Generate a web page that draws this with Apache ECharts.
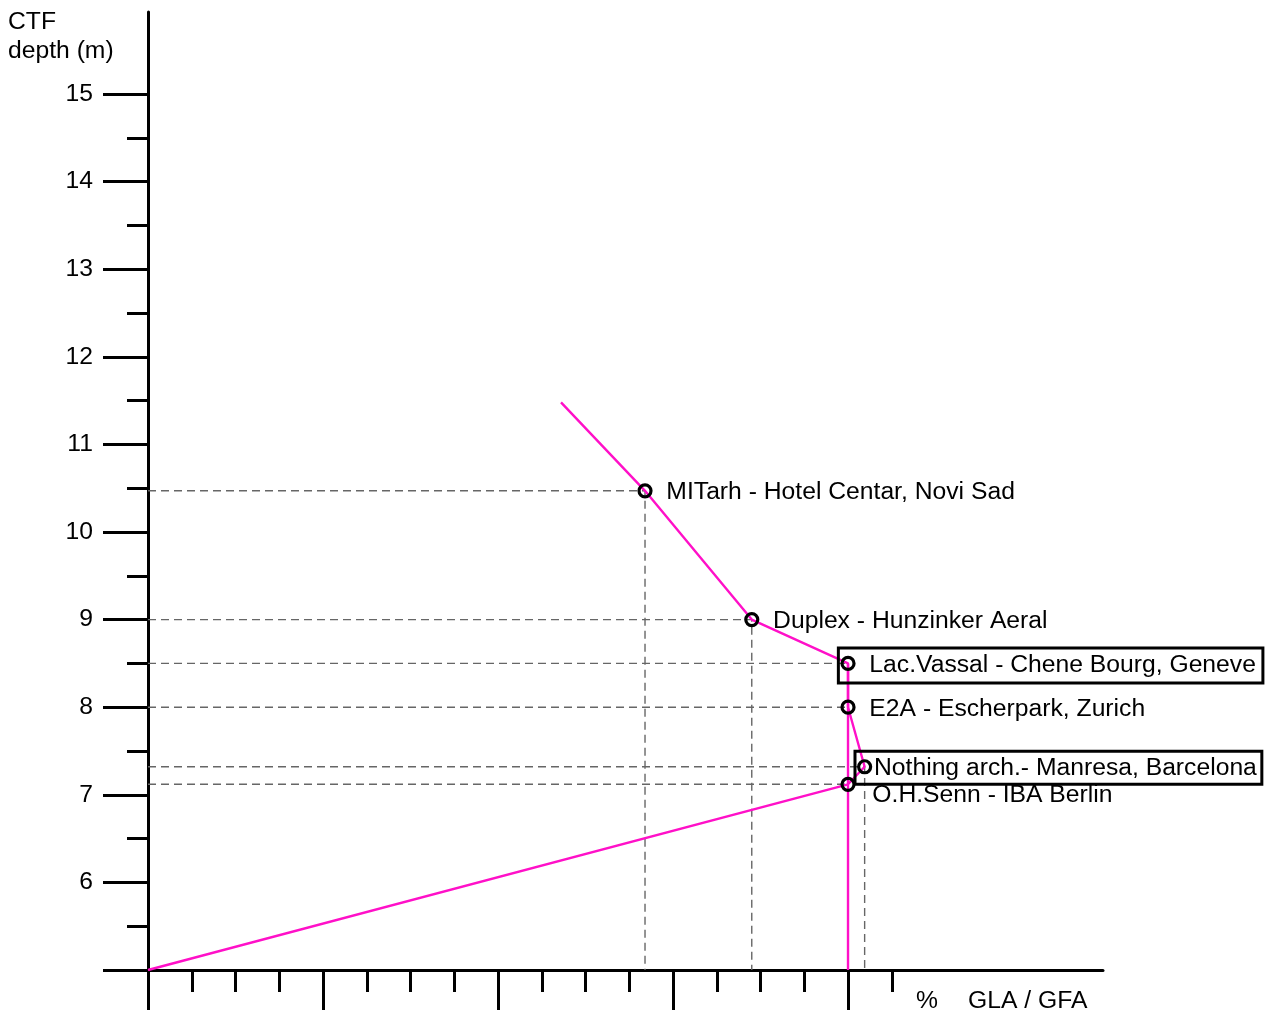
<!DOCTYPE html>
<html>
<head>
<meta charset="utf-8">
<title>CTF depth vs GLA / GFA</title>
<script src="https://cdn.jsdelivr.net/npm/echarts@6/dist/echarts.min.js"></script>
<style>
  html, body { margin: 0; padding: 0; background: #fff; }
  #chart { width: 1271px; height: 1012px; }
</style>
</head>
<body>
<div id="chart"></div>
<script>
// Projects: GLA/GFA ratio (%) against CTF depth (m)
const projectNames = [
  'MITarh - Hotel Centar, Novi Sad',
  'Duplex - Hunzinker Aeral',
  'Lac.Vassal - Chene Bourg, Geneve',
  'E2A - Escherpark, Zurich',
  'Nothing arch.- Manresa, Barcelona',
  'O.H.Senn - IBA Berlin'
];
const glaGfaPct = [56.8, 69.0, 80.0, 80.0, 81.9, 80.0];
const ctfDepth = [10.47, 9.0, 8.5, 8.0, 7.32, 7.12];

// Trend line runs from an upper extension, through the projects, down to the origin
const trendStart = [47.2, 11.48];
const trendEnd = [0, 5];

// Axis extents and ticks
const xMin = 0, xMax = 109.14;
const yMin = 5, yMax = 15.936;
const xMajorTicks = [0, 20, 40, 60, 80];
const xMinorTicks = [5, 10, 15, 25, 30, 35, 45, 50, 55, 65, 70, 75, 85];
const yMajorTicks = [5, 6, 7, 8, 9, 10, 11, 12, 13, 14, 15];
const yMinorTicks = [5.5, 6.5, 7.5, 8.5, 9.5, 10.5, 11.5, 12.5, 13.5, 14.5];
const yTickLabels = [6, 7, 8, 9, 10, 11, 12, 13, 14, 15];

const FONT = "'Liberation Sans', Arial, sans-serif";
const FONT_SIZE = 24.7;
const PINK = '#ff10c8';

const points = projectNames.map((n, i) => [glaGfaPct[i], ctfDepth[i]]);
const trend = [trendStart, ...points, trendEnd];

// index of the project whose drop line is drawn in the trend colour
const lacIdx = 2;

const labelStyles = {
  2: { distance: -17.25, offset: [0, 2], padding: [5, 7, 5, 31], borderColor: '#000', borderWidth: 3 },
  4: { distance: -17.25, offset: [0, 1], padding: [4, 5, 4, 19], borderColor: '#000', borderWidth: 3 },
  5: { distance: 16.75, offset: [0, 11] }
};

const guideSeries = points.map((p) => ({
  type: 'line',
  xAxisIndex: 0, yAxisIndex: 0,
  data: [[xMin, p[1]], p, [p[0], yMin]],
  symbol: 'none',
  silent: true,
  z: 1,
  lineStyle: { color: '#666', width: 1.4, type: [8, 5] }
}));

const baseAxis = {
  type: 'value',
  splitLine: { show: false },
  axisLine: { show: false },
  axisLabel: { show: false },
  axisTick: { show: false }
};

const titleText = { fontFamily: FONT, fontSize: FONT_SIZE, fontWeight: 'normal', color: '#000' };

const option = {
  animation: false,
  backgroundColor: '#fff',
  title: [
    {
      text: 'CTF\ndepth (m)',
      left: 8, top: 8, padding: 0,
      textStyle: Object.assign({}, titleText, { lineHeight: 29 })
    },
    { text: '%', left: 916, top: 989, padding: 0, textStyle: titleText },
    { text: 'GLA / GFA', left: 968, top: 989, padding: 0, textStyle: titleText }
  ],
  grid: [
    { left: 148, right: 168, top: 12, bottom: 42, outerBoundsMode: 'none' },
    { left: 148, right: 168, top: 12, bottom: 42, outerBoundsMode: 'none' }
  ],
  xAxis: [
    Object.assign({}, baseAxis, {
      gridIndex: 0, min: xMin, max: xMax,
      axisLine: { show: true, onZero: false, lineStyle: { color: '#000', width: 3 } },
      axisTick: { show: true, customValues: xMajorTicks, length: 40, lineStyle: { color: '#000', width: 3 } }
    }),
    Object.assign({}, baseAxis, {
      gridIndex: 1, min: xMin, max: xMax,
      axisTick: { show: true, customValues: xMinorTicks, length: 22, lineStyle: { color: '#000', width: 3 } }
    })
  ],
  yAxis: [
    Object.assign({}, baseAxis, {
      gridIndex: 0, min: yMin, max: yMax,
      axisLine: { show: true, onZero: false, lineStyle: { color: '#000', width: 3 } },
      axisTick: { show: true, customValues: yMajorTicks, length: 45, lineStyle: { color: '#000', width: 3 } },
      axisLabel: {
        show: true, customValues: yTickLabels, margin: 55,
        fontFamily: FONT, fontSize: FONT_SIZE, color: '#000'
      }
    }),
    Object.assign({}, baseAxis, {
      gridIndex: 1, min: yMin, max: yMax,
      axisTick: { show: true, customValues: yMinorTicks, length: 21, lineStyle: { color: '#000', width: 3 } }
    })
  ],
  series: [
    ...guideSeries,
    {
      type: 'line',
      xAxisIndex: 0, yAxisIndex: 0,
      data: [points[lacIdx], [points[lacIdx][0], yMin]],
      symbol: 'none',
      silent: true,
      z: 2,
      lineStyle: { color: PINK, width: 2.4 }
    },
    {
      type: 'line',
      xAxisIndex: 0, yAxisIndex: 0,
      data: trend,
      symbol: 'none',
      silent: true,
      z: 3,
      lineStyle: { color: PINK, width: 2.4 }
    },
    {
      type: 'scatter',
      xAxisIndex: 0, yAxisIndex: 0,
      symbol: 'circle',
      symbolSize: 12,
      z: 5,
      silent: true,
      itemStyle: { color: 'rgba(0,0,0,0)', borderColor: '#000', borderWidth: 3.2, opacity: 1 },
      label: {
        show: true,
        position: 'right',
        distance: 13.75,
        offset: [0, 1.5],
        formatter: (p) => p.name,
        fontFamily: FONT,
        fontSize: FONT_SIZE,
        lineHeight: 25,
        color: '#000'
      },
      data: points.map((p, i) => ({
        name: projectNames[i],
        value: p,
        label: labelStyles[i] || {}
      }))
    }
  ]
};

const chart = echarts.init(document.getElementById('chart'), null, { renderer: 'canvas' });
chart.setOption(option);
</script>
</body>
</html>
